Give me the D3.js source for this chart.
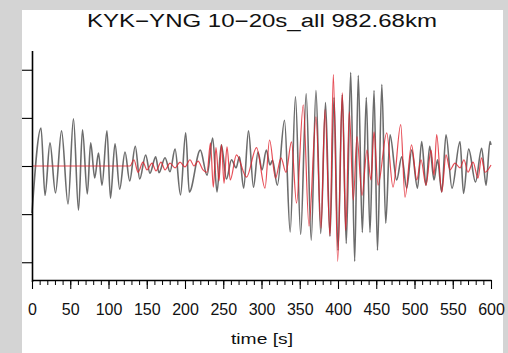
<!DOCTYPE html>
<html><head><meta charset="utf-8">
<script src="https://cdn.jsdelivr.net/npm/d3@7"></script>
<style>html,body{margin:0;padding:0;background:#d4d4d4;}svg{display:block;}</style>
</head><body>
<svg id="c" width="508" height="353"></svg>
<script>
const titleText = "KYK\u2212YNG 10\u221220s_all 982.68km";
const xLabel = "time [s]";
const xMajorTicks = [0,50,100,150,200,250,300,350,400,450,500,550,600];
const yTicks = [-2,-1,0,1,2];

// black trace: times (s) and amplitudes of successive extrema
const blackT = [0,11.8,17.0,23.5,30.7,38.6,47.1,54.2,60.8,66.0,72.3,76.7,82.0,86.9,91.5,98.0,102.6,108.5,114.6,121.6,127.7,135.0,140.8,148.6,154.2,161.7,166.0,173.9,180.4,187.0,194.1,200.9,205.6,220.0,228.8,236.2,241.8,247.5,254.2,260.8,266.7,271.2,276.7,283.0,289.5,295.4,300.7,306.3,311.1,314.4,320.7,330.1,337.5,344.4,351.2,358.4,365.0,371.2,377.4,383.7,389.5,394.8,400.0,405.6,410.8,416.6,421.8,426.5,431.8,437.0,441.8,447.1,451.6,457.3,462.4,468.0,476.7,483.3,489.8,496.3,503.9,509.4,515.0,519.9,525.5,530.1,535.6,541.2,549.0,559.5,564.1,570.8,579.7,587.8,593.5,598.7,600];
const blackV = [-0.98,0.79,-0.61,0.48,-0.56,0.73,-0.79,0.98,-0.92,0.75,-0.58,0.48,-0.25,0.27,-0.40,0.73,-0.67,0.46,-0.48,0.29,-0.31,0.41,-0.27,0.23,-0.15,0.19,-0.14,0.17,-0.12,0.35,-0.60,0.69,-0.54,0.33,-0.19,0.58,-0.54,0.44,-0.27,0.13,-0.04,0.19,-0.46,0.73,-0.44,0.29,-0.08,0.33,0.02,0.12,-0.40,0.95,-1.37,1.44,-1.42,1.50,-1.54,1.57,-1.40,1.32,-1.46,1.42,-1.75,1.48,-1.61,1.94,-1.98,1.88,-1.38,1.42,-1.38,1.57,-1.75,1.69,-1.19,0.65,-0.29,0.19,-0.46,0.33,-0.46,0.51,-0.40,0.41,-0.29,0.13,-0.54,0.65,-0.46,0.51,-0.57,0.35,-0.33,0.37,-0.40,0.51,0.44];

// red trace
const redT = [0,128.1,133.3,138.6,145.1,150.3,156.9,162.1,168.6,173.9,180.4,187.0,193.5,200.0,206.5,211.8,217.0,223.5,228.8,233.3,237.0,240.5,244.4,247.7,251.0,254.9,259.2,267.3,280.4,293.5,304.6,310.5,318.3,325.5,332.0,339.2,345.8,354.6,362.1,371.2,377.8,383.0,389.5,393.9,399.6,405.6,410.1,414.8,420.0,424.8,431.4,437.9,443.1,447.1,452.3,463.7,471.9,482.0,487.6,496.1,502.9,508.5,515.0,521.6,525.5,529.0,535.6,541.2,546.4,552.9,559.5,564.7,569.9,576.5,583.0,587.6,592.2,600];
const redV = [0,0,0.13,-0.13,0.08,-0.08,0.06,-0.10,0.08,-0.08,0.06,-0.04,0.08,-0.02,0.13,0.0,0.10,-0.08,-0.13,0.48,-0.44,0.38,-0.31,0.44,-0.36,0.40,-0.29,0.23,-0.23,0.38,-0.46,0.54,-0.25,0.17,-0.13,0.50,-0.77,1.27,-1.25,1.02,-1.29,1.17,-1.44,1.90,-1.98,1.52,-1.34,1.13,-0.71,0.61,-0.61,0.33,-0.29,0.71,-0.40,0.69,-0.44,0.86,-0.65,0.44,-0.29,0.13,-0.40,0.33,-0.19,0.65,-0.54,0.23,-0.08,0.06,-0.04,0.13,-0.13,0.08,-0.25,0.17,-0.13,0.02];

const svg = d3.select("#c");
const font = "'Liberation Sans', Arial, Helvetica, sans-serif";

// white panel
svg.append("rect").attr("x",22).attr("y",10).attr("width",481).attr("height",343).attr("fill","#ffffff");

const x = d3.scaleLinear().domain([0,600]).range([32,491]);
const y = d3.scaleLinear().domain([-2.4,2.4]).range([281.5,50.5]);

const line = d3.line().x(d=>x(d[0])).y(d=>y(d[1])).curve(d3.curveMonotoneX);
const blackData = blackT.map((t,i)=>[t,blackV[i]]);
const redData = redT.map((t,i)=>[t,redV[i]]);

svg.append("path").datum(blackData).attr("d",line)
  .attr("fill","none").attr("stroke","#333333").attr("stroke-opacity",0.72).attr("stroke-width",1.6);
svg.append("path").datum(redData).attr("d",line)
  .attr("fill","none").attr("stroke","#e0202c").attr("stroke-opacity",0.8).attr("stroke-width",1.2);

// x axis minor ticks
const minor = d3.range(0,601,10);
svg.append("g").attr("transform","translate(0,280)")
  .call(d3.axisBottom(x).tickValues(minor).tickSize(5).tickSizeOuter(0).tickFormat(""))
  .call(g=>g.select(".domain").remove())
  .call(g=>g.selectAll("line").attr("stroke","#000").attr("stroke-width",1));
// x axis major
const gx = svg.append("g").attr("transform","translate(0,280)")
  .call(d3.axisBottom(x).tickValues(xMajorTicks).tickSize(9).tickSizeOuter(0).tickPadding(12));
gx.select(".domain").attr("stroke","#000").attr("stroke-width",1.6);
gx.selectAll("line").attr("stroke","#000").attr("stroke-width",1.1);
gx.selectAll("text").attr("font-family",font).attr("font-size",16).attr("fill","#111")
  .attr("dy",0).attr("y",35);

// y axis
const gy = svg.append("g").attr("transform","translate(32,0)")
  .call(d3.axisLeft(y).tickValues(yTicks).tickSize(10).tickSizeOuter(0).tickFormat(""));
gy.select(".domain").attr("stroke","#000").attr("stroke-width",1.6);
gy.selectAll("line").attr("stroke","#000").attr("stroke-width",1.1);

// title
svg.append("text").attr("x",262).attr("y",27).attr("text-anchor","middle")
  .attr("font-family",font).attr("font-size",18).attr("fill","#111")
  .attr("textLength",350).attr("lengthAdjust","spacingAndGlyphs").text(titleText);
// x label
svg.append("text").attr("x",262).attr("y",344).attr("text-anchor","middle")
  .attr("font-family",font).attr("font-size",15).attr("fill","#111")
  .attr("textLength",62).attr("lengthAdjust","spacingAndGlyphs").text(xLabel);
</script>
</body></html>
